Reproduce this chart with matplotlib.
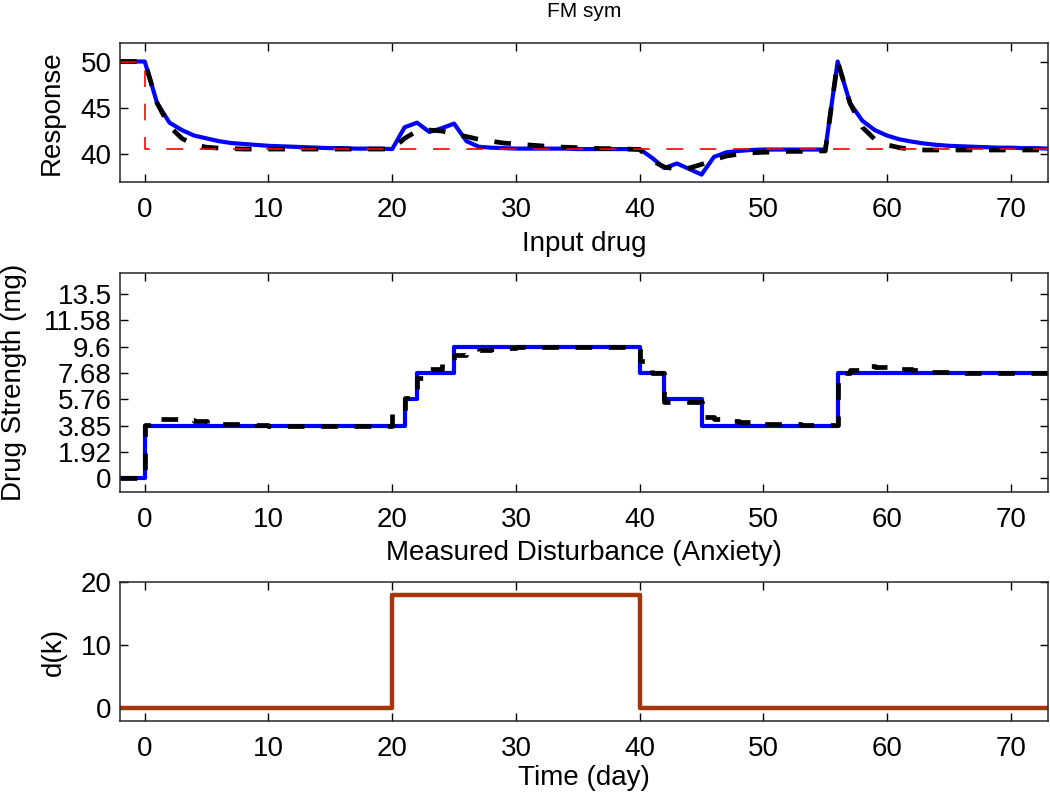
import numpy as np
import matplotlib
matplotlib.use('Agg')
import matplotlib.pyplot as plt

plt.rcParams['font.family'] = ['Liberation Sans', 'DejaVu Sans']
plt.rcParams['lines.scale_dashes'] = False

# days -2 .. 73
days = list(range(-2, 74))

# response (blue) and model prediction (black dashed)
response = [50, 50, 50, 45.5, 43.4, 42.6, 42.0, 41.7, 41.4, 41.2, 41.1, 41.0,
            40.9, 40.85, 40.8, 40.75, 40.7, 40.65, 40.65, 40.6, 40.6, 40.6, 40.55,
            42.9, 43.4, 42.4, 42.8, 43.3, 41.4, 40.8, 40.7, 40.65, 40.6,
            40.6, 40.6, 40.6, 40.6, 40.55, 40.55, 40.55, 40.55, 40.55, 40.55,
            39.6, 38.5, 39.0, 38.4, 37.8, 39.7, 40.2, 40.35, 40.45,
            40.5, 40.5, 40.5, 40.5, 40.5, 40.5,
            50.0, 45.5, 43.6, 42.6, 42.0, 41.6, 41.35, 41.15, 41.0, 40.9,
            40.85, 40.8, 40.75, 40.7, 40.7, 40.65, 40.65, 40.6]
predicted = [50, 50, 50, 45.5, 43.0, 41.7, 41.0, 40.75, 40.65, 40.6, 40.55, 40.55,
             40.55, 40.55, 40.55, 40.55, 40.55, 40.55, 40.55, 40.55, 40.55, 40.55, 40.55,
             41.7, 42.5, 42.6, 42.5, 42.2, 41.9, 41.6, 41.4, 41.2, 41.1,
             41.0, 40.9, 40.8, 40.75, 40.7, 40.65, 40.6, 40.6, 40.55, 40.5,
             39.3, 38.6, 38.4, 38.5, 38.9, 39.4, 39.8, 40.0, 40.15,
             40.2, 40.25, 40.3, 40.3, 40.35, 40.35,
             50.0, 45.5, 42.9, 41.6, 41.0, 40.7, 40.5, 40.45, 40.45, 40.45,
             40.45, 40.45, 40.45, 40.45, 40.45, 40.45, 40.45, 40.45]
setpoint = [50, 50] + [40.55] * 74

# drug strength: applied (blue) and predicted (black dashed)
drug = [0, 0] + [3.85] * 21 + [5.76] + [7.68] * 3 + [9.6] * 15 + [7.68] * 2 \
    + [5.76] * 3 + [3.85] * 11 + [7.68] * 18
drug_pred = [0, 0, 3.9, 4.3, 4.3, 4.25, 4.2, 4.05, 4.0, 4.0, 3.95, 3.9,
             3.85, 3.85, 3.85, 3.85, 3.85, 3.85, 3.85, 3.85, 3.85, 3.85,
             4.85, 5.9, 7.35, 8.0, 8.5, 9.0, 9.15, 9.35, 9.45, 9.52, 9.56,
             9.6, 9.6, 9.6, 9.6, 9.6, 9.6, 9.6, 9.6, 9.6,
             8.6, 7.68, 5.6, 5.55, 5.55, 4.5, 4.35, 4.2, 4.1, 4.05,
             4.0, 3.97, 3.95, 3.9, 3.9, 3.88,
             7.7, 7.9, 8.2, 8.15, 8.05, 8.0, 7.9, 7.8, 7.75,
             7.7, 7.7, 7.7, 7.7, 7.7, 7.7, 7.7, 7.7, 7.7]
drug_ticks = [0, 1.92, 3.85, 5.76, 7.68, 9.6, 11.58, 13.5]
drug_labels = ['0', '1.92', '3.85', '5.76', '7.68', '9.6', '11.58', '13.5']

# measured disturbance
anxiety = [0] * 22 + [18] * 20 + [0] * 34

xticks = [0, 10, 20, 30, 40, 50, 60, 70]
fs = 20
axcol = '#262626'


def style(ax):
    ax.set_xlim(-2, 73)
    ax.set_xticks(xticks)
    ax.tick_params(direction='in', length=6, width=1, top=True, right=True,
                   labelsize=fs, colors='black', pad=11)
    ax.tick_params(axis='y', pad=6)
    for s in ax.spines.values():
        s.set_color(axcol)
        s.set_linewidth(1.1)


fig = plt.figure(figsize=(10.5, 7.96), dpi=100)

ax1 = fig.add_axes([0.1143, 0.7714, 0.8838, 0.1746])
ax1.plot(days, response, '-', color='blue', lw=3.0)
ax1.plot(days, predicted, '--', color='black', lw=3.4, dashes=(12, 12))
ax1.plot(days, setpoint, '--', color='red', lw=1.2, drawstyle='steps-post',
         dashes=(12, 12))
ax1.set_ylim(37, 52)
ax1.set_yticks([40, 45, 50])
ax1.set_ylabel('Response', fontsize=fs)
ax1.yaxis.set_label_coords(-0.06, 0.5)
ax1.set_title('FM sym', fontsize=15, pad=19)
style(ax1)

ax2 = fig.add_axes([0.1143, 0.3819, 0.8838, 0.2751])
ax2.plot(days, drug, '-', color='blue', lw=3.0, drawstyle='steps-post')
ax2.plot(days, drug_pred, '--', color='black', lw=3.4, drawstyle='steps-post',
         dashes=(12, 12))
ax2.set_ylim(-1, 15)
ax2.set_yticks(drug_ticks)
ax2.set_yticklabels(drug_labels)
ax2.set_ylabel('Drug Strength (mg)', fontsize=fs)
ax2.yaxis.set_label_coords(-0.100, 0.5)
ax2.set_title('Input drug', fontsize=fs, pad=16)
style(ax2)

ax3 = fig.add_axes([0.1143, 0.0942, 0.8838, 0.1746])
ax3.plot(days, anxiety, '-', color='#A3360C', lw=3.2, drawstyle='steps-post')
ax3.set_ylim(-2, 20)
ax3.set_yticks([0, 10, 20])
ax3.set_ylabel('d(k)', fontsize=fs)
ax3.yaxis.set_label_coords(-0.057, 0.5)
ax3.set_xlabel('Time (day)', fontsize=fs, labelpad=2)
ax3.set_title('Measured Disturbance (Anxiety)', fontsize=fs, pad=16)
style(ax3)

plt.savefig('out.png', dpi=100)
